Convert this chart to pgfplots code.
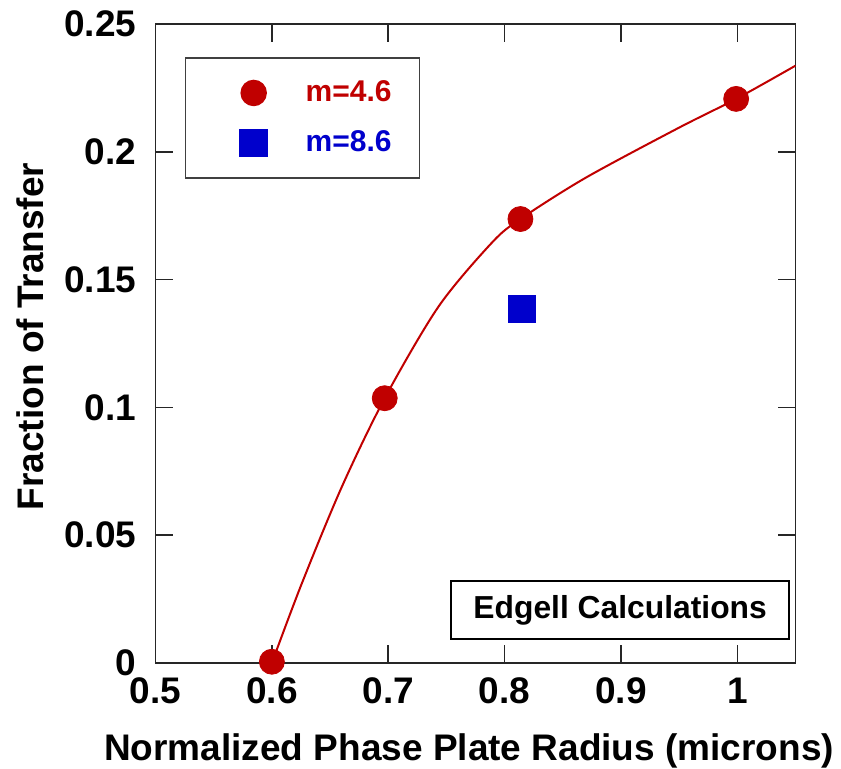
\documentclass[border=0pt]{standalone}
\usepackage{pgfplots}
\pgfplotsset{compat=1.18}
\usepackage{fontspec}
\setmainfont{Liberation Sans}

\definecolor{mred}{RGB}{192,0,0}
\definecolor{mblue}{RGB}{0,0,204}

% curve through the m=4.6 points
\pgfplotstableread{
x y
0.600 0.0000
0.6258 0.0312
0.6602 0.0690
0.697 0.1036
0.7433 0.1395
0.7892 0.1645
0.8136 0.1737
0.8695 0.1898
0.9497 0.2094
0.999 0.2207
1.050 0.2337
}\fitcurve

\begin{document}
\begin{tikzpicture}
\path[use as bounding box] (-77.75pt,-52.5pt) rectangle (342.75pt,331.5pt);
\begin{axis}[
  scale only axis,
  width=320pt, height=319.5pt,
  xmin=0.5, xmax=1.05, ymin=0, ymax=0.25,
  xtick={0.5,0.6,0.7,0.8,0.9,1},
  xticklabels={0.5,0.6,0.7,0.8,0.9,1},
  ytick={0,0.05,0.1,0.15,0.2,0.25},
  yticklabels={0,0.05,0.1,0.15,0.2,0.25},
  tick align=inside, major tick length=9pt,
  axis line style={black!85, line width=0.75pt},
  every tick/.style={black!85, line width=0.75pt},
  /pgf/number format/assume math mode=true,
  tick label style={font=\bfseries\fontsize{18.5}{20}\selectfont},
  yticklabel style={xshift=-6pt},
  xticklabel style={yshift=-4pt},
  xlabel={Normalized Phase Plate Radius (microns)},
  ylabel={Fraction of Transfer},
  label style={font=\bfseries\fontsize{18.5}{20}\selectfont},
  xlabel style={at={(axis description cs:0.49,0)}, anchor=base, yshift=-48.5pt},
  ylabel style={at={(axis description cs:-0.196,0.511)}, anchor=center},
  legend style={at={(axis description cs:0.046,0.948)}, anchor=north west,
    draw=black!75, line width=0.75pt, inner xsep=12pt, inner ysep=9.5pt,
    row sep=9pt, font=\bfseries\fontsize{15}{17}\selectfont},
  legend cell align=left,
  legend image code/.code={\path[draw=none, fill=none] (0pt,-3pt) rectangle (46pt,3pt);
    \draw[#1] plot coordinates {(22pt,0pt)};},
  clip=true,
]
\addplot[mred, line width=1pt, smooth, tension=0.5, forget plot] table {\fitcurve};
\addplot[only marks, mark=*, mark size=6.25pt, mred, mark options={fill=mred, draw=mred}]
  coordinates {(0.6,0.0005) (0.697,0.1036) (0.8136,0.1737) (0.999,0.2207)};
\addlegendentry{\textcolor{mred}{m=4.6}}
\addplot[only marks, mark=square*, mark size=6.75pt, mblue, mark options={fill=mblue, draw=mblue}]
  coordinates {(0.815,0.1386)};
\addlegendentry{\textcolor{mblue}{m=8.6}}
\node[draw=black, line width=1pt, minimum width=168.7pt, minimum height=29pt,
  inner sep=0pt, font=\bfseries\fontsize{15.9}{18}\selectfont]
  at (axis description cs:0.726,0.083) {Edgell Calculations};
\end{axis}
\end{tikzpicture}
\end{document}
